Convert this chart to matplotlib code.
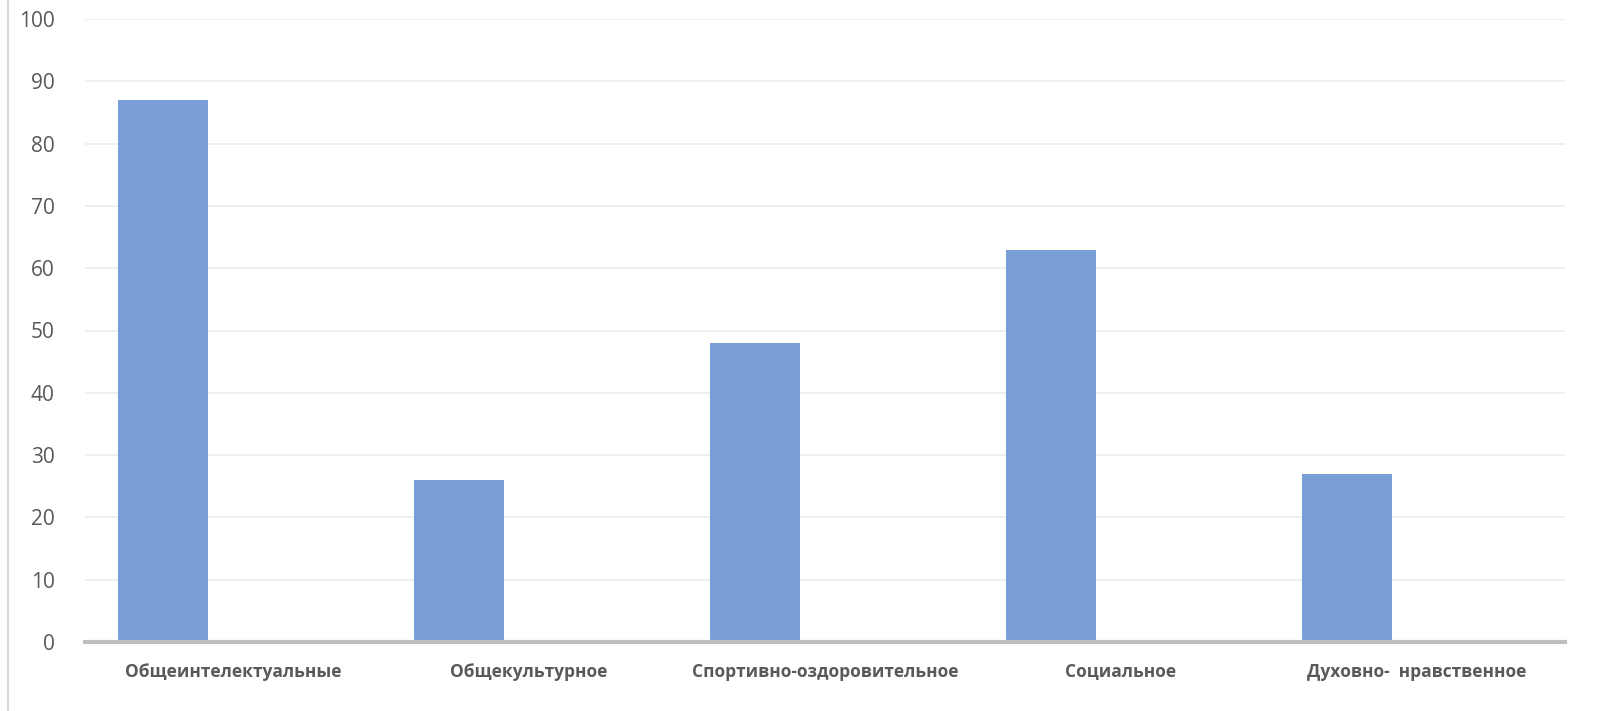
import matplotlib
matplotlib.use("Agg")
import matplotlib.pyplot as plt
from matplotlib.lines import Line2D
import numpy as np

# categories and values
categories = ["Общеинтелектуальные", "Общекультурное", "Спортивно-оздоровительное",
              "Социальное", "Духовно-  нравственное"]
values = [87, 26, 48, 63, 27]
yticks = [0, 10, 20, 30, 40, 50, 60, 70, 80, 90, 100]

plt.rcParams['font.family'] = ['Open Sans', 'DejaVu Sans']

fig = plt.figure(figsize=(16.1, 7.11), dpi=100)
ax = fig.add_axes([85 / 1610, 1 - 642 / 711, 1480 / 1610, 623 / 711])

x = np.arange(len(categories))
ax.bar(x - 0.237, values, width=0.304, color="#7a9fd6", zorder=3)

ax.set_xlim(-0.5, len(categories) - 0.5)
ax.set_ylim(0, 100)
ax.set_yticks(yticks)
ax.set_xticks(x)
ax.set_xticklabels(categories, fontsize=12.5, fontweight="bold", color="#595959",
                   family=['Open Sans', 'DejaVu Sans'])
ax.tick_params(axis="y", labelsize=15, labelcolor="#595959", length=0, pad=22)
ax.tick_params(axis="x", length=0, pad=15)

ax.grid(axis="y", color="#ececec", linewidth=1.2, zorder=0)
for s in ["top", "right", "left"]:
    ax.spines[s].set_visible(False)
ax.spines["bottom"].set_color("#bfbfbf")
ax.spines["bottom"].set_linewidth(3)
ax.spines["bottom"].set_zorder(4)

# thin frame line on the left edge
fig.add_artist(Line2D([8 / 1610, 8 / 1610], [0, 1], color="#d9d9d9", linewidth=1.5))

plt.savefig("out.png", dpi=100)
